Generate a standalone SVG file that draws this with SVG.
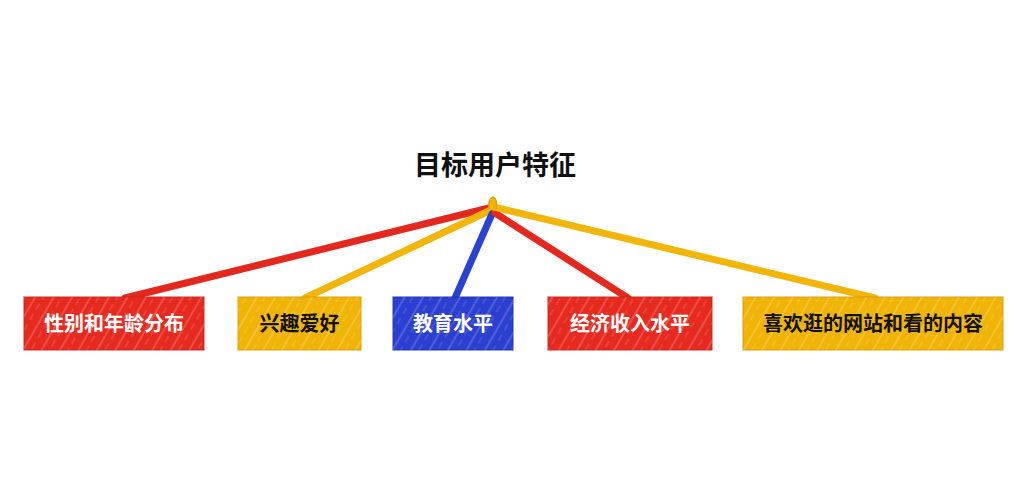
<svg xmlns="http://www.w3.org/2000/svg" width="1029" height="500" viewBox="0 0 1029 500">
<defs>
<pattern id="hatch" width="12" height="16" patternUnits="userSpaceOnUse" patternTransform="rotate(-60)">
<line x1="0" y1="3" x2="12" y2="3" stroke="#ffffff" stroke-opacity="0.35" stroke-width="1"/>
<line x1="2" y1="10" x2="9" y2="10" stroke="#ffffff" stroke-opacity="0.22" stroke-width="1"/>
</pattern>
</defs>
<style>
.title{font-family:"Noto Sans CJK SC","Noto Sans",sans-serif;font-weight:bold;font-size:27px;fill:#111111}
.lbl{font-family:"Noto Sans CJK SC","Noto Sans",sans-serif;font-weight:bold;font-size:20px}
.w{fill:#ffffff}
.k{fill:#111111}
.red{fill:#e62a1f}
.yel{fill:#f0b406}
.blu{fill:#2b3fd0}
.edge{fill:none;stroke-width:7;stroke-linecap:round}
.er{stroke:#e3281e}
.ey{stroke:#f2b50a}
.eb{stroke:#2a42d2}
.box{stroke-width:1.5;stroke-opacity:0.6}
</style>
<rect width="1029" height="500" fill="#ffffff"/>
<g id="title">
<text class="title" x="495" y="175" text-anchor="middle">目标用户特征</text>
</g>
<g id="connectors">
<line class="edge er" x1="489" y1="208" x2="125" y2="298"/>
<line class="edge ey" x1="491" y1="210" x2="305" y2="298"/>
<line class="edge eb" x1="492" y1="214" x2="455" y2="298"/>
<line class="edge er" x1="495" y1="213" x2="628" y2="298"/>
<line class="edge ey" x1="494" y1="207" x2="875" y2="298"/>
<path d="M489 209 Q488 199 493 197 Q498 199 496 209" fill="#f2b50a" stroke="#e0a000" stroke-width="1.5"/>
</g>
<g id="n1">
<rect x="24" y="297" width="180" height="53" class="red box" stroke="#c81e14"/>
<rect x="24" y="297" width="180" height="53" fill="url(#hatch)"/>
<text class="lbl w" x="114" y="331" text-anchor="middle">性别和年龄分布</text>
</g>
<g id="n2">
<rect x="238" y="297" width="123" height="53" class="yel box" stroke="#d49a00"/>
<rect x="238" y="297" width="123" height="53" fill="url(#hatch)"/>
<text class="lbl k" x="299.5" y="331" text-anchor="middle">兴趣爱好</text>
</g>
<g id="n3">
<rect x="393" y="297" width="120" height="53" class="blu box" stroke="#1a2cb0"/>
<rect x="393" y="297" width="120" height="53" fill="url(#hatch)"/>
<text class="lbl w" x="453" y="331" text-anchor="middle">教育水平</text>
</g>
<g id="n4">
<rect x="548" y="297" width="164" height="53" class="red box" stroke="#c81e14"/>
<rect x="548" y="297" width="164" height="53" fill="url(#hatch)"/>
<text class="lbl w" x="630" y="331" text-anchor="middle">经济收入水平</text>
</g>
<g id="n5">
<rect x="743" y="297" width="260" height="53" class="yel box" stroke="#d49a00"/>
<rect x="743" y="297" width="260" height="53" fill="url(#hatch)"/>
<text class="lbl k" x="873" y="331" text-anchor="middle">喜欢逛的网站和看的内容</text>
</g>
</svg>
